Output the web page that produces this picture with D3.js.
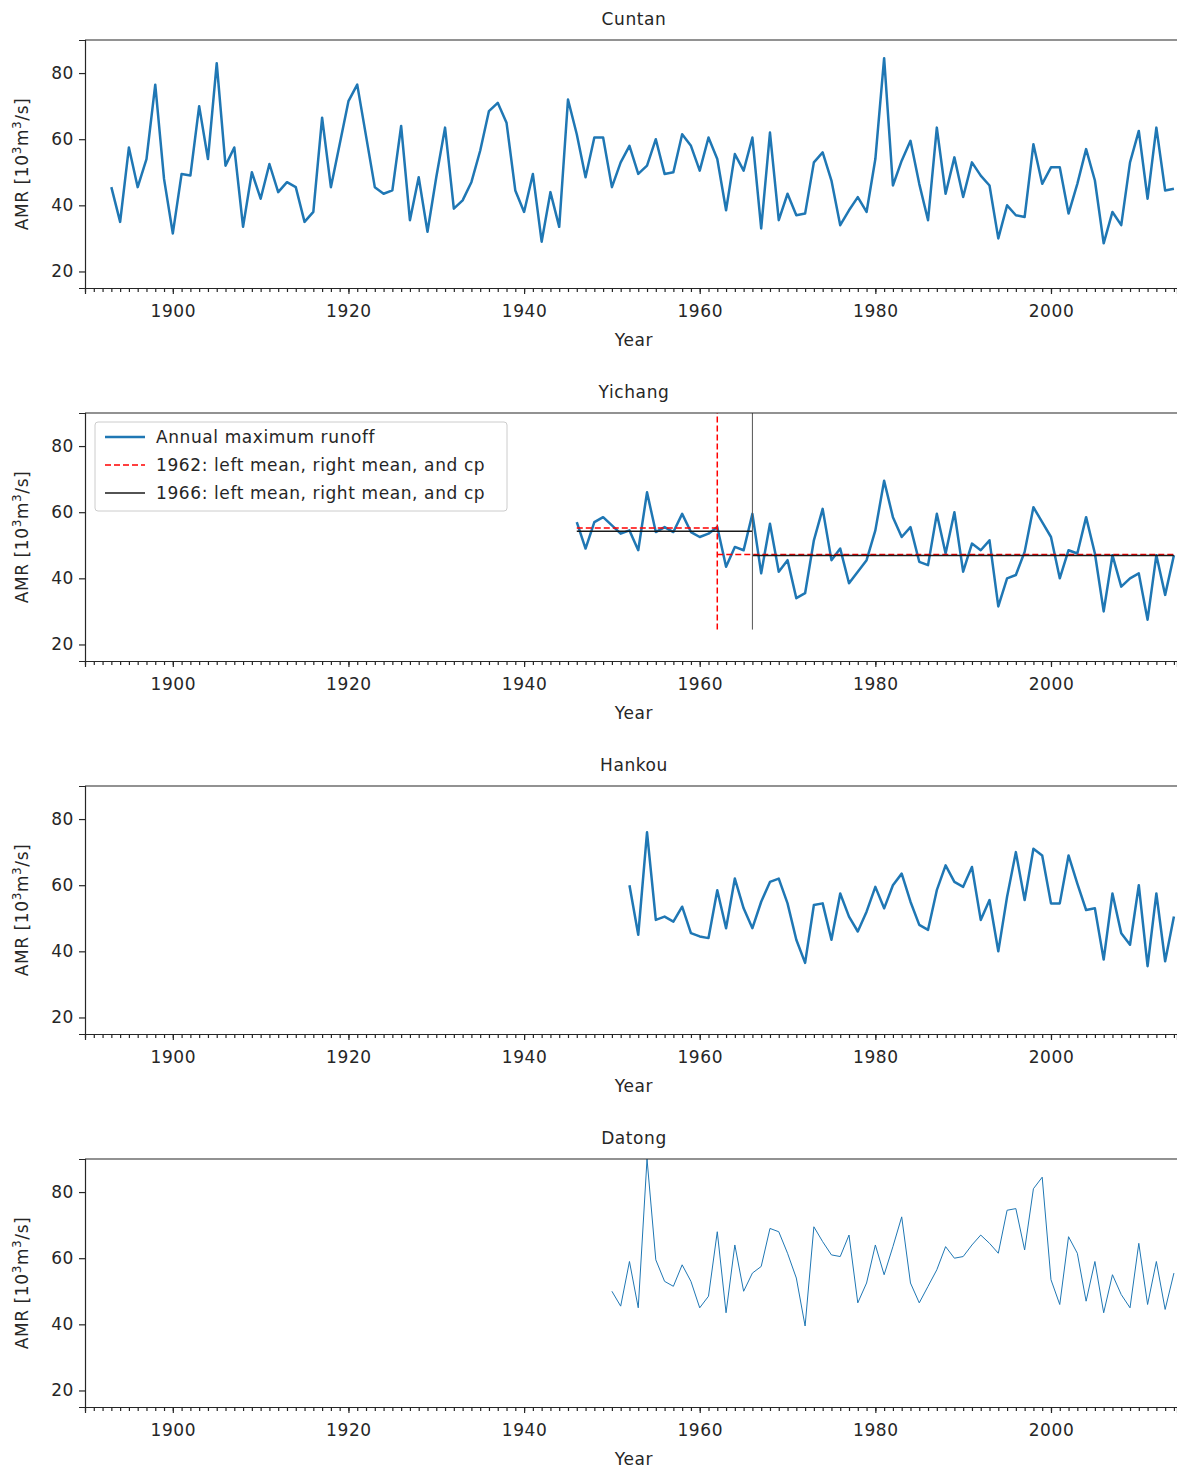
<!DOCTYPE html>
<html><head><meta charset="utf-8">
<script src="https://cdn.jsdelivr.net/npm/d3@7"></script>
<style>body{margin:0;background:#fff}text{font-family:"DejaVu Sans",sans-serif;fill:#262626;letter-spacing:0.6px}</style>
</head><body><svg id="c" width="1177" height="1468"></svg>
<script>
var cuntanStart = 1893;
var cuntan = [45.5,35,57.5,45.5,54,76.5,48,31.5,49.5,49,70,54,83,52,57.5,33.5,50,42,52.5,44,47,45.5,35,38,66.5,45.5,58.5,71.5,76.5,61,45.5,43.5,44.5,64,35.5,48.5,32,48.5,63.5,39,41.5,47,56.5,68.5,71,65,44.5,38,49.5,29,44,33.5,72,61.5,48.5,60.5,60.5,45.5,53,58,49.5,52,60,49.5,50,61.5,58,50.5,60.5,54,38.5,55.5,50.5,60.5,33,62,35.5,43.5,37,37.5,53,56,47.5,34,38.5,42.5,38,54,84.5,46,53.5,59.5,46.5,35.5,63.5,43.5,54.5,42.5,53,49,46,30,40,37,36.5,58.5,46.5,51.5,51.5,37.5,46.5,57,47.5,28.5,38,34,53,62.5,42,63.5,44.5,45];
var yichangStart = 1946;
var yichang = [57,49,57,58.5,56,53.5,54.5,48.5,66,54,55.5,54,59.5,54,52.5,53.5,55.5,43.5,49.5,48.5,59.5,41.5,56.5,42,45.5,34,35.5,51.5,61,45.5,49,38.5,42,45.5,54.5,69.5,58.5,52.5,55.5,45,44,59.5,47.5,60,42,50.5,48.5,51.5,31.5,40,41,48,61.5,57,52.5,40,48.5,47.5,58.5,47.5,30,47,37.5,40,41.5,27.5,47,35,47];
var hankouStart = 1952;
var hankou = [60,45,76,49.5,50.5,49,53.5,45.5,44.5,44,58.5,47,62,53,47,55,61,62,54.5,43.5,36.5,54,54.5,43.5,57.5,50.5,46,52,59.5,53,60,63.5,55,48,46.5,58.5,66,61,59.5,65.5,49.5,55.5,40,56.5,70,55.5,71,69,54.5,54.5,69,60.5,52.5,53,37.5,57.5,45.5,42,60,35.5,57.5,37,50.5];
var datongStart = 1950;
var datong = [50,45.5,59,45,90,59.5,53,51.5,58,53,45,48.5,68,43.5,64,50,55.5,57.5,69,68,61.5,54,39.5,69.5,65,61,60.5,67,46.5,52.5,64,55,63.5,72.5,52.5,46.5,51.5,56.5,63.5,60,60.5,64,67,64.5,61.5,74.5,75,62.5,81,84.5,53.5,46,66.5,61.5,47,59,43.5,55,49,45,64.5,46,59,44.5,55.5];
var cps = [1962, 1966];
var cpColors = ["#ff0000", "#1a1a1a"];
var legendLabels = ["Annual maximum runoff", "1962: left mean, right mean, and cp", "1966: left mean, right mean, and cp"];

var stations = [
  {name: "Cuntan", start: cuntanStart, vals: cuntan, lw: 2.5},
  {name: "Yichang", start: yichangStart, vals: yichang, lw: 2.5},
  {name: "Hankou", start: hankouStart, vals: hankou, lw: 2.5},
  {name: "Datong", start: datongStart, vals: datong, lw: 1}
];

var svg = d3.select("#c");
var left = 85, right = 1177, ph = 248, blue = "#1f77b4", fs = "17px";
var x = d3.scaleLinear().domain([1890, 2014.35]).range([left, right]);
var mean = a => d3.mean(a);

stations.forEach(function(s, i) {
  var top = 40 + i * 373;
  var y = d3.scaleLinear().domain([15, 90]).range([top + ph, top]);
  var g = svg.append("g");
  var data = s.vals.map((v, k) => [s.start + k, v]);

  g.append("text").attr("x", 634).attr("y", top - 15).attr("text-anchor", "middle")
    .style("font-size", fs).text(s.name);

  var line = d3.line().x(d => x(d[0])).y(d => y(d[1]));
  g.append("path").datum(data).attr("d", line).attr("fill", "none")
    .attr("stroke", blue).attr("stroke-width", s.lw).attr("stroke-linejoin", "round");

  if (s.name === "Yichang") {
    cps.forEach(function(cp, j) {
      var lv = data.filter(d => d[0] <= cp).map(d => d[1]);
      var rv = data.filter(d => d[0] > cp).map(d => d[1]);
      var dash = j === 0 ? "6,3" : null;
      var ln = [[[s.start, mean(lv)], [cp, mean(lv)]], [[cp, mean(rv)], [2014, mean(rv)]]];
      ln.forEach(l => g.append("path").datum(l).attr("d", line).attr("fill", "none")
        .attr("stroke", cpColors[j]).attr("stroke-width", 1.5).attr("stroke-dasharray", dash));
      g.append("line").attr("x1", x(cp)).attr("x2", x(cp)).attr("y1", y(24.5)).attr("y2", y(90))
        .attr("stroke", j === 0 ? cpColors[0] : "#555").attr("stroke-width", j === 0 ? 1.5 : 1)
        .attr("stroke-dasharray", dash);
    });
    var lg = g.append("g").attr("transform", "translate(95," + (top + 9) + ")");
    lg.append("rect").attr("width", 412).attr("height", 89).attr("rx", 3)
      .attr("fill", "#fff").attr("fill-opacity", 0.8).attr("stroke", "#ccc");
    legendLabels.forEach(function(t, j) {
      var ly = 15 + j * 28;
      lg.append("line").attr("x1", 10).attr("x2", 50).attr("y1", ly).attr("y2", ly)
        .attr("stroke", j === 0 ? blue : cpColors[j - 1]).attr("stroke-width", j === 0 ? 2.5 : 1.5)
        .attr("stroke-dasharray", j === 1 ? "6,3" : null);
      lg.append("text").attr("x", 61).attr("y", ly + 6).style("font-size", fs).text(t);
    });
  }

  var xa = g.append("g").attr("transform", "translate(0," + (top + ph) + ")")
    .call(d3.axisBottom(x).tickValues(d3.range(1900, 2001, 20)).tickFormat(d3.format("d")).tickSize(6).tickPadding(11));
  xa.selectAll("text").style("font-size", fs);
  g.append("g").attr("transform", "translate(0," + (top + ph) + ")")
    .call(d3.axisBottom(x).tickValues(d3.range(1890, 2015)).tickFormat("").tickSize(4))
    .select(".domain").remove();
  var ya = g.append("g").attr("transform", "translate(" + left + ",0)")
    .call(d3.axisLeft(y).tickValues([20, 40, 60, 80]).tickSize(6).tickPadding(5));
  ya.selectAll("text").style("font-size", fs);
  g.selectAll(".tick line").attr("stroke", "#262626").attr("stroke-width", 1.2);
  g.selectAll(".domain").attr("stroke", "#262626").attr("stroke-width", 1.2);
  g.append("line").attr("x1", left).attr("x2", right).attr("y1", top).attr("y2", top)
    .attr("stroke", "#262626").attr("stroke-width", 1.2);

  g.append("text").attr("x", 634).attr("y", top + ph + 58).attr("text-anchor", "middle")
    .style("font-size", fs).text("Year");
  var yl = g.append("text").attr("transform", "translate(28," + (top + ph / 2) + ") rotate(-90)")
    .attr("text-anchor", "middle").style("font-size", fs);
  yl.append("tspan").text("AMR [10");
  yl.append("tspan").attr("dy", -7).style("font-size", "12px").text("3");
  yl.append("tspan").attr("dy", 7).text("m");
  yl.append("tspan").attr("dy", -7).style("font-size", "12px").text("3");
  yl.append("tspan").attr("dy", 7).text("/s]");
});
</script></body></html>
